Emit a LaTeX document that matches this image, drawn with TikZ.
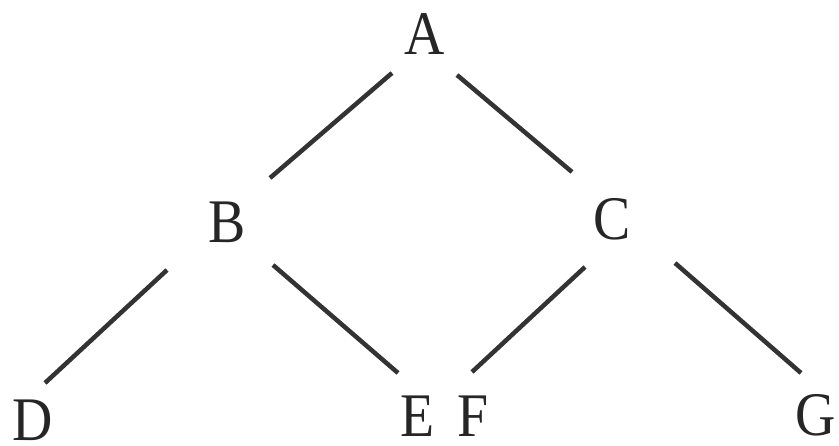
\documentclass[tikz,border=0pt]{standalone}
\usepackage{fontspec}
\setmainfont{Liberation Serif}
\begin{document}
\begin{tikzpicture}[x=1pt,y=-1pt,
  lbl/.style={inner sep=0pt, font=\fontsize{62}{62}\selectfont, text=black!85, anchor=center, xscale=0.9},
  edge/.style={line width=4.5pt, draw=black!80}]
\useasboundingbox (0,0) rectangle (839,446);
\fill[white] (0,0) rectangle (839,446);
\node[lbl] (A) at (425,34) {A};
\node[lbl] (B) at (227,222) {B};
\node[lbl] (C) at (612,219) {C};
\node[lbl] (D) at (33,420) {D};
\node[lbl] (E) at (418,416) {E};
\node[lbl] (F) at (473,416) {F};
\node[lbl] (G) at (816,415) {G};
\draw[edge] ([shift={(-33,39)}]A.center) -- ([shift={(43,-44)}]B.center);
\draw[edge] ([shift={(32,41)}]A.center) -- ([shift={(-40,-47)}]C.center);
\draw[edge] ([shift={(-60,48)}]B.center) -- ([shift={(12,-37)}]D.center);
\draw[edge] ([shift={(46,43)}]B.center) -- ([shift={(-20,-43)}]E.center);
\draw[edge] ([shift={(-27,48)}]C.center) -- ([shift={(-1,-44)}]F.center);
\draw[edge] ([shift={(63,44)}]C.center) -- ([shift={(-15,-42)}]G.center);
\end{tikzpicture}
\end{document}
